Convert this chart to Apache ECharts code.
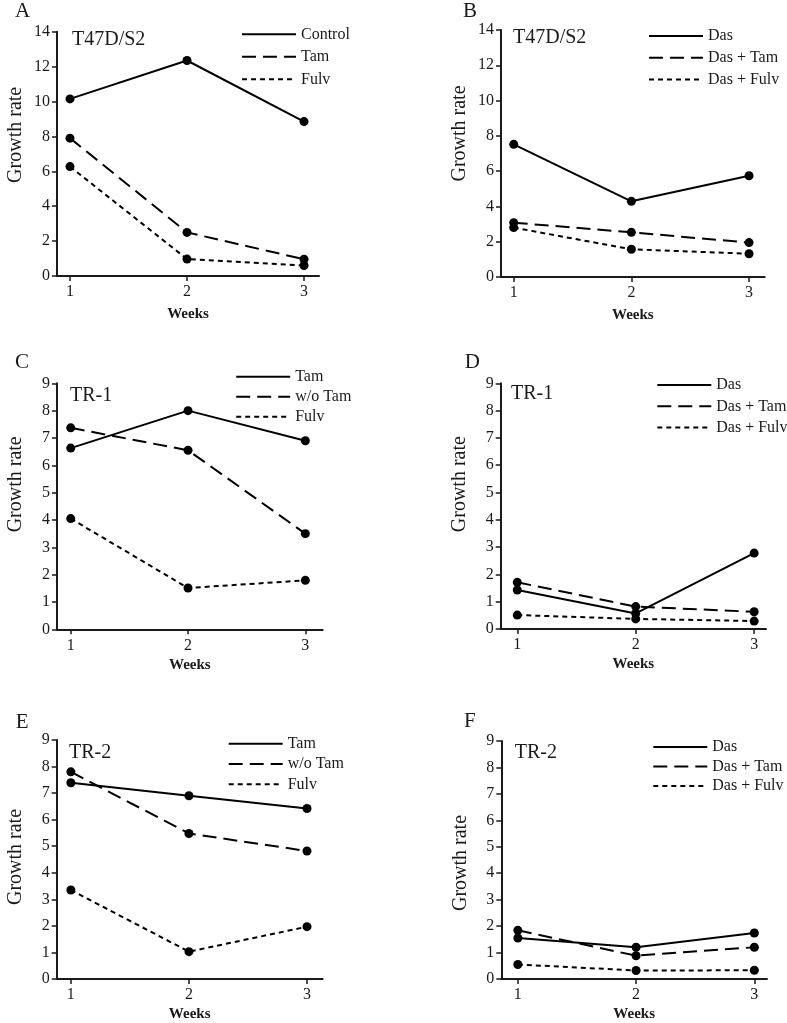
<!DOCTYPE html>
<html>
<head>
<meta charset="utf-8">
<script src="https://cdn.jsdelivr.net/npm/echarts@6/dist/echarts.min.js"></script>
<style>html,body{margin:0;padding:0;background:#fff}#c{width:787px;height:1023px}</style>
</head>
<body>
<div id="c"></div>
<script>
// ---- data ----
const weeks = [1, 2, 3];
const weekLabels = ['1', '2', '3'];
const panelLetters = ['A', 'B', 'C', 'D', 'E', 'F'];
const cellLines = ['T47D/S2', 'T47D/S2', 'TR-1', 'TR-1', 'TR-2', 'TR-2'];
const namesA = ['Control', 'Tam', 'Fulv'];
const namesB = ['Das', 'Das + Tam', 'Das + Fulv'];
const namesC = ['Tam', 'w/o Tam', 'Fulv'];
const namesD = ['Das', 'Das + Tam', 'Das + Fulv'];
const namesE = ['Tam', 'w/o Tam', 'Fulv'];
const namesF = ['Das', 'Das + Tam', 'Das + Fulv'];
const controlA = [10.15, 12.35, 8.85];
const tamA = [7.9, 2.5, 0.96];
const fulvA = [6.27, 0.97, 0.6];
const dasB = [7.52, 4.29, 5.74];
const dasTamB = [3.08, 2.53, 1.95];
const dasFulvB = [2.8, 1.57, 1.32];
const tamC = [6.63, 8.0, 6.9];
const woTamC = [7.37, 6.55, 3.5];
const fulvC = [4.05, 1.51, 1.79];
const dasD = [1.43, 0.57, 2.78];
const dasTamD = [1.71, 0.82, 0.63];
const dasFulvD = [0.51, 0.37, 0.29];
const tamE = [7.39, 6.9, 6.42];
const woTamE = [7.8, 5.48, 4.82];
const fulvE = [3.35, 1.03, 1.97];
const dasF = [1.55, 1.2, 1.74];
const dasTamF = [1.84, 0.88, 1.2];
const dasFulvF = [0.55, 0.32, 0.33];
const yMaxTop = 14, yIntTop = 2;
const yMaxRest = 9, yIntRest = 1;

const panelNames = [namesA, namesB, namesC, namesD, namesE, namesF];
const panelValues = [
  [controlA, tamA, fulvA],
  [dasB, dasTamB, dasFulvB],
  [tamC, woTamC, fulvC],
  [dasD, dasTamD, dasFulvD],
  [tamE, woTamE, fulvE],
  [dasF, dasTamF, dasFulvF]
];

// ---- layout ----
const layout = [
  {grid: {left: 57, top: 31.7, width: 262, height: 244.3}, xmin: 0.889, xmax: 3.128, ymax: yMaxTop, yint: yIntTop, letter: [15, 1], cell: [72, 30], legend: [241, 26.3], lgap: 22.5, shift: 19, xgap: 31},
  {grid: {left: 501, top: 30, width: 263.7, height: 247}, xmin: 0.892, xmax: 3.133, ymax: yMaxTop, yint: yIntTop, letter: [463, 1], cell: [513, 28], legend: [648, 28], lgap: 21.7, shift: 20, xgap: 31},
  {grid: {left: 57, top: 383.3, width: 265.7, height: 246}, xmin: 0.883, xmax: 3.148, ymax: yMaxRest, yint: yIntRest, letter: [15, 352], cell: [70, 386], legend: [235.2, 368.7], lgap: 20, shift: 22, xgap: 28},
  {grid: {left: 500.7, top: 383.3, width: 265.3, height: 245.7}, xmin: 0.86, xmax: 3.10, ymax: yMaxRest, yint: yIntRest, letter: [464.7, 352], cell: [511, 384], legend: [656.3, 377], lgap: 21.3, shift: 22, xgap: 28},
  {grid: {left: 56.7, top: 740, width: 266, height: 241.7}, xmin: 0.88, xmax: 3.133, ymax: yMaxRest, yint: yIntRest, letter: [15.7, 712], cell: [69, 743], legend: [227.7, 735.7], lgap: 20.3, shift: 2.5, xgap: 28},
  {grid: {left: 501.3, top: 741, width: 265.7, height: 241.3}, xmin: 0.86, xmax: 3.107, ymax: yMaxRest, yint: yIntRest, letter: [464, 711], cell: [514.7, 743], legend: [652.3, 739], lgap: 19.5, shift: -3, xgap: 28}
];

const FONT = 'Liberation Serif';
const INK = '#1a1a1a';
const lineTypes = ['solid', [14, 7], [5, 4]];

const grids = [], xAxes = [], yAxes = [], series = [], legends = [], titles = [];
layout.forEach((L, i) => {
  grids.push(Object.assign({containLabel: false}, L.grid));
  xAxes.push({
    type: 'value', gridIndex: i, min: L.xmin, max: L.xmax,
    name: 'Weeks', nameLocation: 'middle', nameGap: L.xgap,
    nameTextStyle: {fontFamily: FONT, fontSize: 15, fontWeight: 'bold', color: INK},
    axisLine: {show: true, lineStyle: {color: INK, width: 2}},
    axisTick: {show: true, length: 5, lineStyle: {color: INK, width: 1.5}, customValues: weeks},
    axisLabel: {fontFamily: FONT, fontSize: 16, color: INK, margin: 8, customValues: weeks,
      formatter: v => weekLabels[weeks.indexOf(Math.round(v))] || ''},
    splitLine: {show: false}
  });
  const sh = L.shift;
  yAxes.push({
    type: 'value', gridIndex: i, min: 0, max: L.ymax, interval: L.yint,
    name: 'Growth rate', nameLocation: 'middle', nameGap: 31,
    nameTextStyle: {fontFamily: FONT, fontSize: 20, color: INK,
      padding: sh >= 0 ? [0, 0, 0, 2 * sh] : [0, -2 * sh, 0, 0]},
    axisLine: {show: true, lineStyle: {color: INK, width: 2}},
    axisTick: {show: true, length: 5, lineStyle: {color: INK, width: 1.5}},
    axisLabel: {fontFamily: FONT, fontSize: 16, color: INK, margin: 7},
    splitLine: {show: false}
  });
  const key = panelLetters[i] + '|';
  panelNames[i].forEach((nm, k) => {
    series.push({
      type: 'line', name: key + nm, xAxisIndex: i, yAxisIndex: i,
      data: weeks.map((w, j) => [w, panelValues[i][k][j]]),
      symbol: 'circle', symbolSize: 9,
      itemStyle: {color: '#000'},
      lineStyle: {color: '#000', width: 2, type: lineTypes[k]},
      emphasis: {disabled: true}, silent: true, animation: false, z: 3 - k
    });
  });
  legends.push({
    orient: 'vertical', left: L.legend[0], top: L.legend[1], padding: 0,
    itemWidth: 54, itemHeight: 14, itemGap: L.lgap - 16,
    data: panelNames[i].map(n => ({name: key + n})),
    formatter: n => n.split('|')[1],
    itemStyle: {opacity: 0},
    textStyle: {fontFamily: FONT, fontSize: 16, color: INK},
    selectedMode: false
  });
  titles.push({text: panelLetters[i], left: L.letter[0], top: L.letter[1], padding: 0,
    textStyle: {fontFamily: FONT, fontSize: 21, fontWeight: 'normal', color: INK}});
  titles.push({text: cellLines[i], left: L.cell[0], top: L.cell[1], padding: 0,
    textStyle: {fontFamily: FONT, fontSize: 20, fontWeight: 'normal', color: INK}});
});

const chart = echarts.init(document.getElementById('c'), null, {renderer: 'canvas'});
chart.setOption({
  backgroundColor: '#fff',
  animation: false,
  title: titles,
  grid: grids,
  xAxis: xAxes,
  yAxis: yAxes,
  legend: legends,
  series: series
});
</script>
</body>
</html>
